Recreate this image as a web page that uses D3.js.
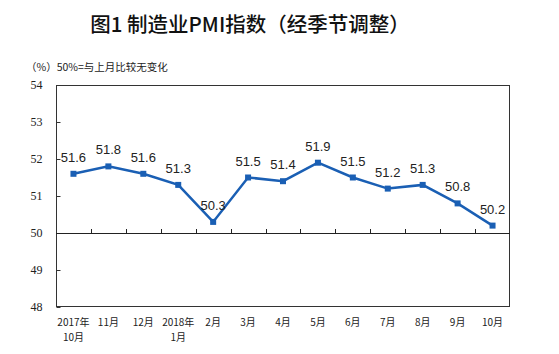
<!DOCTYPE html>
<html>
<head>
<meta charset="utf-8">
<script src="https://cdn.jsdelivr.net/npm/d3@7"></script>
<style>
  body { margin: 0; background: #fff; }
  svg { display: block; }
</style>
</head>
<body>
<div id="chart"></div>
<script>
'use strict'
// data
var months = ['2017年\n10月', '11月', '12月', '2018年\n1月', '2月', '3月', '4月', '5月', '6月', '7月', '8月', '9月', '10月']
var pmi = [51.6, 51.8, 51.6, 51.3, 50.3, 51.5, 51.4, 51.9, 51.5, 51.2, 51.3, 50.8, 50.2]
var yTicks = [48, 49, 50, 51, 52, 53, 54]

var W = 559, H = 354
var plot = {left: 56, right: 510, top: 85, bottom: 307}
var blue = '#1a5fb4'

var svg = d3.select('#chart').append('svg')
  .attr('width', W)
  .attr('height', H)

var x = d3.scaleBand().domain(months).range([plot.left, plot.right])
var y = d3.scaleLinear().domain([48, 54]).range([plot.bottom, plot.top])

// title
svg.append('text')
  .attr('x', 250).attr('y', 32)
  .attr('text-anchor', 'middle')
  .attr('font-family', '"Noto Sans CJK SC", sans-serif')
  .attr('font-weight', 500)
  .attr('font-size', 20.5)
  .attr('fill', '#111')
  .text('图1 制造业PMI指数（经季节调整）')

svg.append('text')
  .attr('x', 26).attr('y', 71)
  .attr('font-family', '"Noto Sans CJK SC", sans-serif')
  .attr('font-size', 10.5)
  .attr('fill', '#222')
  .text('（%）50%=与上月比较无变化')

// frame
svg.append('rect')
  .attr('x', plot.left + 0.5).attr('y', plot.top + 0.5)
  .attr('width', plot.right - plot.left - 1)
  .attr('height', plot.bottom - plot.top - 1)
  .attr('fill', 'none')
  .attr('stroke', '#333')
  .attr('stroke-width', 1)

// y axis
var yAxis = d3.axisLeft(y).tickValues(yTicks).tickFormat(d3.format('d')).tickSize(-4).tickPadding(14)
var gy = svg.append('g')
  .attr('transform', `translate(${plot.left + 0.5},0)`)
  .call(yAxis)
gy.select('.domain').remove()
gy.selectAll('.tick line').attr('stroke', '#333')
gy.selectAll('.tick text')
  .attr('font-family', '"Liberation Serif", serif')
  .attr('font-size', 12)
  .attr('fill', '#222')

// category axis crosses at 50
var bounds = months.map(m => x(m)).concat([plot.right])
var gx = svg.append('g')
gx.append('line')
  .attr('x1', plot.left).attr('x2', plot.right)
  .attr('y1', Math.round(y(50)) + 0.5).attr('y2', Math.round(y(50)) + 0.5)
  .attr('stroke', '#222')
gx.selectAll('.tk')
  .data(bounds.slice(1, -1))
  .join('line')
  .attr('x1', d => Math.round(d) + 0.5).attr('x2', d => Math.round(d) + 0.5)
  .attr('y1', Math.round(y(50)) + 0.5).attr('y2', Math.round(y(50)) - 4)
  .attr('stroke', '#222')

// x labels at bottom
var xl = svg.append('g')
  .selectAll('text')
  .data(months)
  .join('text')
  .attr('x', d => x(d) + x.bandwidth() / 2)
  .attr('y', 326)
  .attr('text-anchor', 'middle')
  .attr('font-family', '"Noto Sans CJK SC", sans-serif')
  .attr('font-size', 10)
  .attr('fill', '#222')
xl.each(function (d) {
  var lines = d.split('\n')
  d3.select(this).selectAll('tspan')
    .data(lines)
    .join('tspan')
    .attr('x', x(d) + x.bandwidth() / 2)
    .attr('dy', (l, i) => i === 0 ? 0 : 15)
    .text(l => l)
})

// line
var cx = (d, i) => x(months[i]) + x.bandwidth() / 2
var line = d3.line()
  .x(cx)
  .y(d => y(d))

svg.append('path')
  .datum(pmi)
  .attr('d', line)
  .attr('fill', 'none')
  .attr('stroke', blue)
  .attr('stroke-width', 2.5)

svg.append('g')
  .selectAll('rect')
  .data(pmi)
  .join('rect')
  .attr('x', (d, i) => cx(d, i) - 3)
  .attr('y', d => y(d) - 3)
  .attr('width', 6)
  .attr('height', 6)
  .attr('fill', blue)

// value labels
svg.append('g')
  .selectAll('text')
  .data(pmi)
  .join('text')
  .attr('x', (d, i) => cx(d, i))
  .attr('y', d => y(d) - 12)
  .attr('text-anchor', 'middle')
  .attr('font-family', '"Liberation Sans", Arial, sans-serif')
  .attr('font-size', 13)
  .attr('fill', '#222')
  .text(d => d.toFixed(1))
</script>
</body>
</html>
